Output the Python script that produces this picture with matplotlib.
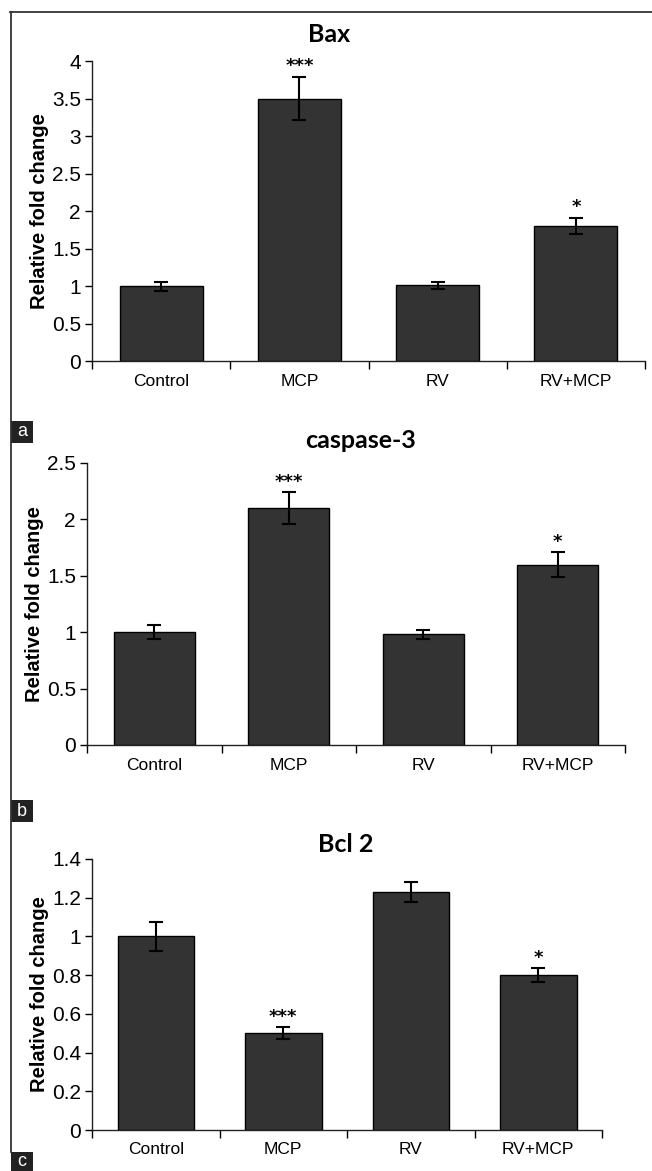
import matplotlib
matplotlib.use("Agg")
import matplotlib.pyplot as plt
import matplotlib.patches as mpatches
import matplotlib.lines as mlines
from matplotlib.ticker import FixedLocator, NullFormatter

W, H = 652, 1171

groups = ["Control", "MCP", "RV", "RV+MCP"]
stars = ["", "***", "", "*"]

bax = [1.0, 3.5, 1.01, 1.8]
bax_err = [0.06, 0.29, 0.05, 0.11]

casp3 = [1.0, 2.1, 0.98, 1.6]
casp3_err = [0.06, 0.14, 0.04, 0.11]

bcl2 = [1.0, 0.5, 1.23, 0.8]
bcl2_err = [0.075, 0.03, 0.05, 0.035]

SANS = ["Liberation Sans Narrow", "Liberation Sans", "DejaVu Sans"]
TITLE = ["Lato", "DejaVu Sans"]

fig = plt.figure(figsize=(W / 100, H / 100), dpi=100)
fig.patch.set_facecolor("white")


def px_axes(left, right, top, bottom):
    """Axes placed by pixel box (y measured from the top of the image)."""
    return fig.add_axes([left / W, 1 - bottom / H, (right - left) / W, (bottom - top) / H])


def panel(ax, vals, errs, ymax, ystep, title, title_xy):
    x = list(range(len(groups)))
    ax.bar(x, vals, width=0.6, color="#333333", edgecolor="black", linewidth=1.0, zorder=2)
    ax.errorbar(x, vals, yerr=errs, fmt="none", ecolor="black", elinewidth=1.5,
                capsize=5, capthick=1.5, zorder=3)
    for xi, v, e, s in zip(x, vals, errs, stars):
        if s:
            ax.annotate(s, (xi, v + e), xytext=(0, 1), textcoords="offset points",
                        ha="center", va="bottom", fontsize=13, fontweight="bold",
                        family="DejaVu Sans")
    ax.set_xlim(-0.5, len(groups) - 0.5)
    ax.set_ylim(0, ymax)
    ticks = [round(i * ystep, 2) for i in range(int(round(ymax / ystep)) + 1)]
    ax.set_yticks(ticks)
    ax.set_yticklabels([f"{t:g}" for t in ticks], family=SANS, fontsize=15)
    ax.set_xticks(x)
    ax.set_xticklabels(groups, family=SANS, fontsize=12.5)
    ax.xaxis.set_minor_locator(FixedLocator([i - 0.5 for i in range(len(groups) + 1)]))
    ax.xaxis.set_minor_formatter(NullFormatter())
    ax.tick_params(axis="x", which="major", length=0, pad=9)
    ax.tick_params(axis="x", which="minor", length=6, width=1, direction="out")
    ax.tick_params(axis="y", length=5, width=1, direction="out", pad=3)
    for side in ("top", "right"):
        ax.spines[side].set_visible(False)
    for side in ("left", "bottom"):
        ax.spines[side].set_linewidth(1.0)
        ax.spines[side].set_color("#222222")
    ax.set_ylabel("Relative fold change", family=SANS, fontsize=14.5, fontweight="bold",
                  labelpad=2)
    fig.text(title_xy[0] / W, 1 - title_xy[1] / H, title, ha="center", va="center",
             family=TITLE, fontsize=18, fontweight="bold")


ax_a = px_axes(92, 645, 61, 361)
panel(ax_a, bax, bax_err, 4, 0.5, "Bax", (329, 35))

ax_b = px_axes(87, 625, 463, 745)
panel(ax_b, casp3, casp3_err, 2.5, 0.5, "caspase-3", (360, 440))

ax_c = px_axes(92, 602, 859, 1130)
panel(ax_c, bcl2, bcl2_err, 1.4, 0.2, "Bcl 2", (346, 845))

# outer frame: top rule and left rule
fig.add_artist(mlines.Line2D([10 / W, 1], [1 - 12 / H] * 2, color="#333333", lw=1.3))
fig.add_artist(mlines.Line2D([11 / W] * 2, [1 - 12 / H, 1 - 1152 / H], color="#333333", lw=1.3))

# panel letters
for letter, top, bottom in [("a", 421, 443), ("b", 800, 822), ("c", 1152, 1171)]:
    fig.add_artist(mpatches.Rectangle((11 / W, 1 - bottom / H), 22 / W, (bottom - top) / H,
                                      transform=fig.transFigure, color="#222222", lw=0))
    fig.text(22 / W, 1 - (top + bottom) / 2 / H, letter, color="white", ha="center",
             va="center", family=SANS, fontsize=13)

fig.savefig("out.png", dpi=100)
